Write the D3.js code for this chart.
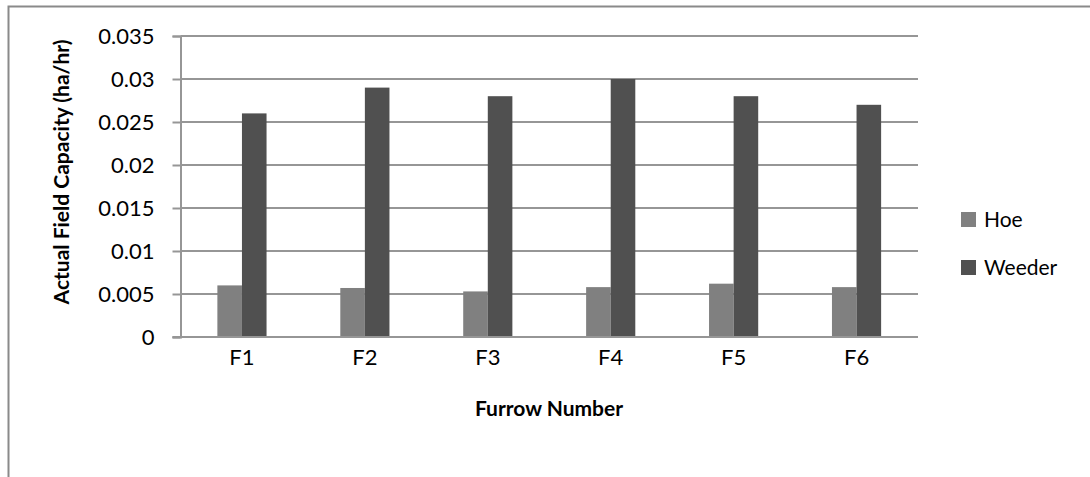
<!DOCTYPE html>
<html><head><meta charset="utf-8">
<script src="https://cdn.jsdelivr.net/npm/d3@7"></script>
<style>body{margin:0;background:#fff}svg{display:block}text{font-family:Lato,"Liberation Sans",sans-serif;fill:#000}</style>
</head><body><svg id="c" width="1090" height="477"></svg>
<script>
const categories = ["F1","F2","F3","F4","F5","F6"];
const seriesNames = ["Hoe","Weeder"];
const hoe = [0.0060,0.0057,0.0053,0.0058,0.0062,0.0058];
const weeder = [0.026,0.029,0.028,0.030,0.028,0.027];
const yTicks = [0,0.005,0.01,0.015,0.02,0.025,0.03,0.035];
const yTickLabels = ["0","0.005","0.01","0.015","0.02","0.025","0.03","0.035"];
const colors = ["#808080","#505050"];

const svg = d3.select("#c");
svg.append("rect").attr("x",8.5).attr("y",6.5).attr("width",1200).attr("height",600)
  .attr("fill","none").attr("stroke","#8a8a8a").attr("stroke-width",2);

const L=180.5, R=918, T=36, B=337;
const x = d3.scaleBand().domain(categories).range([L,R]).paddingInner(0.6).paddingOuter(0.3);
const x1 = d3.scaleBand().domain(seriesNames).range([0,x.bandwidth()]);
const y = d3.scaleLinear().domain([0,0.035]).range([B,T]);

svg.append("g").selectAll("line").data(yTicks.slice(1)).join("line")
  .attr("x1",L).attr("x2",R).attr("y1",d=>y(d)).attr("y2",d=>y(d))
  .attr("stroke","#969696").attr("stroke-width",2);

const yAxis = d3.axisLeft(y).tickValues(yTicks).tickFormat((d,i)=>yTickLabels[i]).tickSize(8).tickPadding(18);
const gy = svg.append("g").attr("transform",`translate(${L},0)`).call(yAxis);
gy.select(".domain").attr("stroke","#969696").attr("stroke-width",2);
gy.selectAll(".tick line").attr("stroke","#969696").attr("stroke-width",2);
gy.selectAll(".tick text").style("font-size","22px").attr("fill","#000");

const data = categories.map((c,i)=>({c, vals:[hoe[i],weeder[i]]}));
const g = svg.append("g");
data.forEach(d=>{
  d.vals.forEach((v,j)=>{
    g.append("rect").attr("x",x(d.c)+x1(seriesNames[j])).attr("width",x1.bandwidth())
      .attr("y",y(v)).attr("height",B-y(v)).attr("fill",colors[j]);
  });
});

const xAxis = d3.axisBottom(x).tickSize(0).tickPadding(12);
const gx = svg.append("g").attr("transform",`translate(0,${B})`).call(xAxis);
gx.select(".domain").attr("stroke","#969696").attr("stroke-width",2).attr("d",`M${L-8},0H${R}`);
gx.selectAll(".tick text").style("font-size","22px").attr("fill","#000");

svg.append("text").attr("x",549).attr("y",416).attr("text-anchor","middle")
  .style("font-size","21px").style("font-weight","bold").text("Furrow Number");
svg.append("text").attr("transform","translate(69,172) rotate(-90)").attr("text-anchor","middle")
  .style("font-size","21px").style("font-weight","bold").text("Actual Field Capacity (ha/hr)");

const lg = svg.append("g");
seriesNames.forEach((s,i)=>{
  lg.append("rect").attr("x",961).attr("y",212+i*48).attr("width",15).attr("height",15).attr("fill",colors[i]);
  lg.append("text").attr("x",984).attr("y",227+i*48).style("font-size","21px").text(s);
});
</script></body></html>
